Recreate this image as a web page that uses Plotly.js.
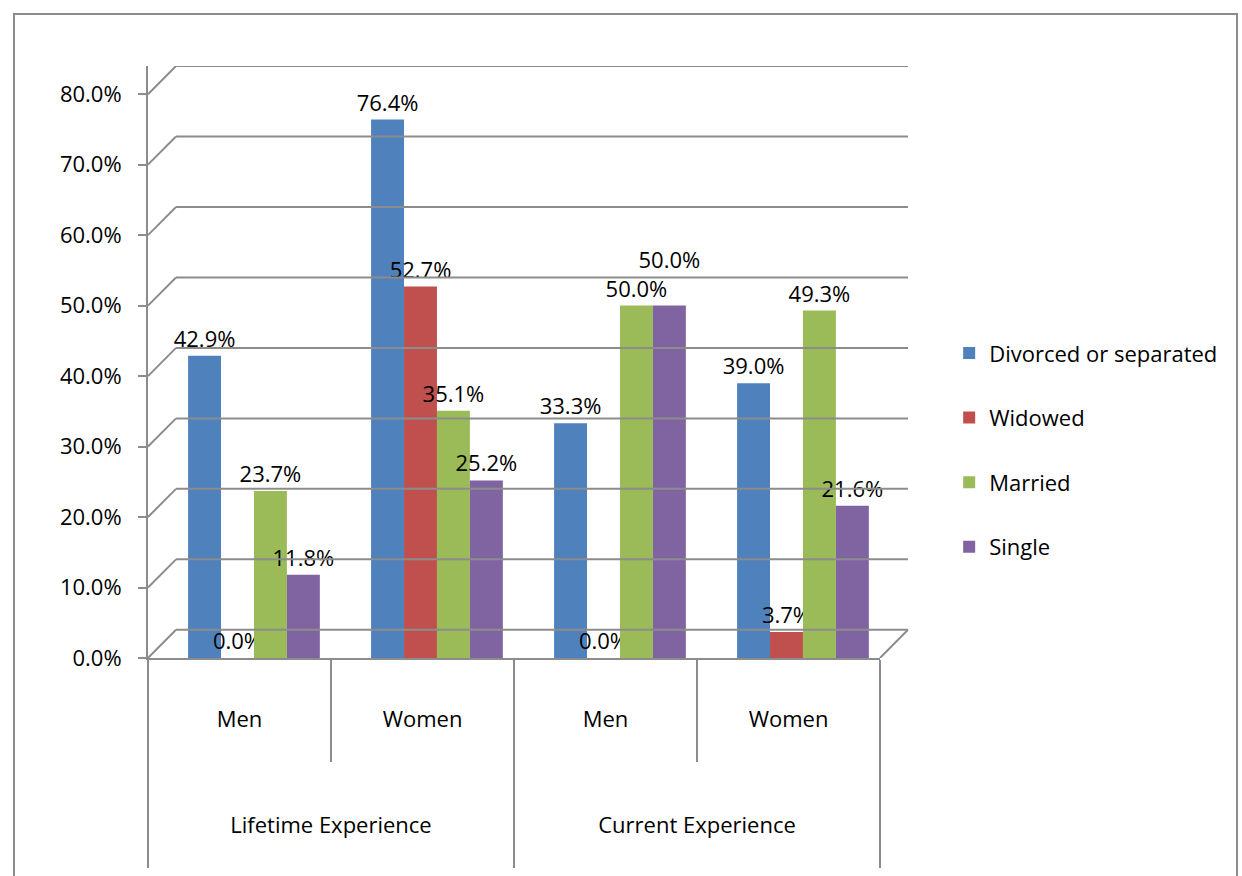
<!DOCTYPE html>
<html>
<head>
<meta charset="utf-8">
<script src="https://cdn.plot.ly/plotly-3.0.1.min.js"></script>
<style>
html,body{margin:0;padding:0;background:#fff;}
#chart{width:1242px;height:876px;}
#frame{position:absolute;left:13px;top:13px;width:1225px;height:880px;border:2px solid #8c8c8c;pointer-events:none;box-sizing:border-box;}
</style>
</head>
<body>
<div id="chart"></div>
<div id="frame"></div>
<script>
const experience = ["Lifetime Experience","Lifetime Experience","Current Experience","Current Experience"];
const gender = ["Men","Women","Men","Women"];
const seriesNames = ["Divorced or separated","Widowed","Married","Single"];
const divorced = [0.429, 0.764, 0.333, 0.390];
const widowed  = [0.000, 0.527, 0.000, 0.037];
const married  = [0.237, 0.351, 0.500, 0.493];
const single   = [0.118, 0.252, 0.500, 0.216];
const colors = ["#4F81BD","#C0504D","#9BBB59","#8064A2"];
const yTicks = [0,0.1,0.2,0.3,0.4,0.5,0.6,0.7,0.8];

// display-only label padding to place the two category levels like the reference
const expLabels = experience.map(s => "&nbsp;<br>&nbsp;<br>&nbsp;<br>" + s + "<br>&nbsp;");
const genderLabels = gender.map(s => s + "<br>&nbsp;");

const barW = 0.18;
const firstOffset = -0.281;
const allSeries = [divorced, widowed, married, single];
const fmt = v => (v*100).toFixed(1) + "%";
const traces = allSeries.map((vals, i) => ({
  type: "bar",
  name: seriesNames[i],
  legendgroup: seriesNames[i],
  x: [expLabels, genderLabels],
  y: vals,
  width: barW,
  offset: firstOffset + i*barW,
  marker: {color: colors[i], line: {width: 0}},
  // lift a label one line when it would collide with the equal-height neighbour label
  text: vals.map((v, j) => (i > 0 && allSeries[i-1][j] === v) ? fmt(v) + "<br>&nbsp;" : fmt(v)),
  textposition: "outside",
  constraintext: "none",
  textfont: {family: "Open Sans", size: 22, color: "#000"},
  cliponaxis: false,
  hoverinfo: "skip"
}));

// 3D-style gridlines: diagonal from axis to back wall, then horizontal along back wall
const depthX = 28/732;   // paper units
const depthY = 0.04;     // data units
const shapes = [];
yTicks.forEach(v => {
  shapes.push({type:"line", xref:"paper", yref:"y", x0:0, x1:depthX, y0:v, y1:v+depthY, line:{color:"#8c8c8c", width:2}});
  shapes.push({type:"line", xref:"paper", yref:"y", x0:depthX, x1:1+depthX, y0:v+depthY, y1:v+depthY, line:{color:"#8c8c8c", width:2}});
});
shapes.push({type:"line", xref:"paper", yref:"y", x0:1, x1:1+depthX, y0:0, y1:depthY, line:{color:"#8c8c8c", width:2}});

const layout = {
  width: 1242, height: 876,
  margin: {l:148, r:362, t:66, b:218},
  paper_bgcolor: "rgba(0,0,0,0)",
  plot_bgcolor: "rgba(0,0,0,0)",
  font: {family: "Open Sans", size: 22, color: "#000"},
  barmode: "group",
  showlegend: true,
  legend: {x: 1.0945, xanchor: "left", y: 0.351, yanchor: "middle",
           font: {family: "Open Sans", size: 22, color: "#000"},
           tracegroupgap: 33, bgcolor: "rgba(0,0,0,0)"},
  xaxis: {
    type: "multicategory",
    showline: true, linecolor: "#8c8c8c", linewidth: 2,
    ticks: "outside", ticklen: 102, tickcolor: "#8c8c8c", tickwidth: 2,
    ticklabelstandoff: 41,
    showdividers: true, dividercolor: "#8c8c8c", dividerwidth: 2,
    tickfont: {family: "Open Sans", size: 22, color: "#000"},
    showgrid: false, zeroline: false
  },
  yaxis: {
    range: [0, 0.84],
    tickvals: yTicks,
    ticktext: yTicks.map(fmt),
    showgrid: false, zeroline: false,
    showline: true, linecolor: "#8c8c8c", linewidth: 2,
    ticks: "outside", ticklen: 8, tickcolor: "#8c8c8c", tickwidth: 2,
    ticklabelstandoff: 12,
    tickfont: {family: "Open Sans", size: 22, color: "#000"}
  },
  shapes: shapes
};

Plotly.newPlot("chart", traces, layout, {displayModeBar: false, staticPlot: true});
</script>
</body>
</html>
